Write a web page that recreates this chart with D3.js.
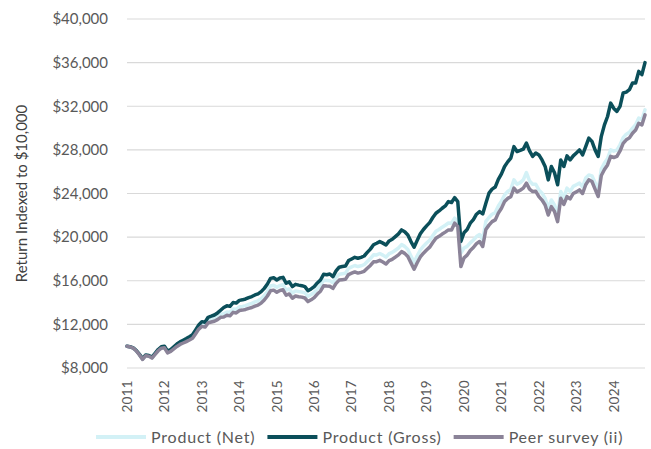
<!DOCTYPE html>
<html>
<head>
<meta charset="utf-8">
<script src="https://cdn.jsdelivr.net/npm/d3@7"></script>
<style>
body { margin: 0; background: #fff; }
text { font-family: Lato, "Open Sans", sans-serif; }
</style>
</head>
<body>
<div id="chart"></div>
<script>
// year labels sit on every 12th monthly point
var years = ["2011", "2012", "2013", "2014", "2015", "2016", "2017", "2018", "2019", "2020", "2021", "2022", "2023", "2024"];
var yTicks = [8000, 12000, 16000, 20000, 24000, 28000, 32000, 36000, 40000];
var seriesNames = ["Product (Net)", "Product (Gross)", "Peer survey (ii)"];

var productNet = [
    10000, 9940, 9830, 9575, 9220, 8810, 9155, 9100, 8950, 9290, 9630, 9880,
    9930, 9470, 9610, 9850, 10090, 10280, 10420, 10560, 10720, 10890, 11320, 11750,
    12020, 11960, 12370, 12460, 12550, 12710, 12940, 12980, 13140, 13090, 13420, 13380,
    13610, 13650, 13720, 13830, 13920, 14060, 14160, 14350, 14640, 15020, 15520, 15590,
    15400, 15570, 15630, 15130, 15250, 14860, 15070, 15010, 14970, 14890, 14570, 14740,
    14940, 15280, 15550, 16050, 16030, 16010, 15820, 16290, 16600, 16650, 16690, 17140,
    17270, 17400, 17300, 17370, 17470, 17760, 18030, 18380, 18370, 18500, 18350, 18170,
    18480, 18600, 18800, 19000, 19310, 19150, 18860, 18270, 17690, 18290, 18820, 19170,
    19460, 19720, 20140, 20530, 20700, 20910, 21090, 21290, 21280, 21740, 21430, 18530,
    19000, 19150, 19480, 19720, 20050, 20240, 19780, 21450, 21800, 22100, 22250, 22850,
    23300, 23870, 24180, 24380, 25250, 24850, 25000, 25250, 25920, 25150, 24850, 24850,
    24330, 24030, 23560, 22640, 23410, 22960, 22030, 24190, 23620, 24490, 24180, 24650,
    24800, 24950, 24620, 25420, 25700, 25620, 24990, 24330, 26250, 26800, 27200, 28000,
    27880, 27970, 28470, 29120, 29440, 29610, 29990, 30300, 30920, 30760, 31670
];

var productGross = [
    10000, 9950, 9850, 9600, 9250, 8850, 9200, 9150, 9000, 9350, 9700, 9950,
    10000, 9550, 9700, 9950, 10200, 10400, 10550, 10700, 10870, 11050, 11500, 11950,
    12250, 12200, 12650, 12750, 12860, 13050, 13300, 13550, 13700, 13650, 14000, 13950,
    14200, 14250, 14330, 14450, 14550, 14700, 14800, 15000, 15300, 15700, 16220, 16280,
    16070, 16250, 16310, 15770, 15900, 15460, 15670, 15600, 15550, 15460, 15090, 15250,
    15460, 15800, 16070, 16590, 16550, 16620, 16380, 16900, 17240, 17300, 17350, 17850,
    18000, 18150, 18060, 18150, 18270, 18600, 18900, 19300, 19440, 19590, 19450, 19280,
    19650, 19800, 20050, 20300, 20660, 20500, 20200, 19590, 19070, 19700, 20300, 20700,
    21030, 21330, 21800, 22190, 22400, 22650, 22860, 23260, 23170, 23620, 23260, 19600,
    20400, 20700, 21280, 21600, 22100, 22340, 22130, 23110, 24030, 24400, 24590, 25300,
    25800, 26480, 26900, 27240, 28300, 27850, 27950, 28070, 28620, 27900, 27400, 27710,
    27540, 27080, 26480, 25250, 26480, 25900, 24800, 27080, 26480, 27450, 27080, 27450,
    27710, 28000, 27540, 28300, 29080, 28780, 28000, 27400, 29240, 30290, 31060, 32290,
    31800, 31530, 31990, 33220, 33300, 33520, 34130, 34130, 35200, 34900, 36000
];

var peerSurvey = [
    10000, 9930, 9820, 9560, 9200, 8790, 9130, 9070, 8910, 9250, 9580, 9820,
    9850, 9390, 9520, 9750, 9980, 10160, 10290, 10420, 10570, 10730, 11150, 11570,
    11820, 11750, 12140, 12220, 12290, 12440, 12650, 12680, 12830, 12780, 13100, 13050,
    13270, 13310, 13370, 13470, 13550, 13680, 13770, 13950, 14230, 14600, 15080, 15140,
    14950, 15110, 15170, 14670, 14790, 14400, 14600, 14540, 14500, 14420, 14090, 14250,
    14450, 14780, 15040, 15540, 15510, 15500, 15300, 15760, 16060, 16100, 16130, 16570,
    16690, 16810, 16700, 16770, 16860, 17140, 17400, 17740, 17750, 17870, 17720, 17540,
    17850, 17970, 18170, 18370, 18670, 18510, 18220, 17640, 17060, 17650, 18180, 18530,
    18820, 19080, 19500, 19900, 20070, 20280, 20460, 20660, 20650, 21280, 20970, 17300,
    18100, 18350, 18780, 19050, 19400, 19600, 19140, 20700, 21100, 21420, 21580, 22200,
    22650, 23260, 23550, 23700, 24490, 24150, 24300, 24490, 24950, 24400, 24180, 24200,
    23720, 23400, 22950, 22030, 22800, 22350, 21420, 23570, 23000, 23720, 23500, 24000,
    24150, 24330, 24000, 24800, 25250, 25100, 24400, 23720, 25650, 26200, 26620, 27400,
    27300, 27400, 27900, 28600, 28920, 29100, 29530, 29830, 30440, 30290, 31210
];

function renderChart() {
    var width = 651,
        height = 449,
        plot = {left: 127, right: 645, top: 19, bottom: 368};

    var colors = ["#d3f1f6", "#0b4f5a", "#8b8398"];
    var series = [productNet, productGross, peerSurvey];

    var svg = d3.select("#chart")
        .append("svg")
        .attr("width", width)
        .attr("height", height);

    var x = d3.scaleLinear()
        .domain([0, productGross.length - 1])
        .range([plot.left, plot.right]);

    var y = d3.scaleLinear()
        .domain([8000, 40000])
        .range([plot.bottom, plot.top]);

    // gridlines
    svg.append("g")
        .selectAll("line")
        .data(yTicks)
        .enter()
        .append("line")
        .attr("x1", plot.left)
        .attr("x2", plot.right)
        .attr("y1", function(d) { return y(d); })
        .attr("y2", function(d) { return y(d); })
        .attr("stroke", "#d9d9d9")
        .attr("stroke-width", 1.2);

    // y labels
    svg.append("g")
        .selectAll("text")
        .data(yTicks)
        .enter()
        .append("text")
        .attr("x", 108)
        .attr("y", function(d) { return y(d); })
        .attr("dy", "0.35em")
        .attr("text-anchor", "end")
        .attr("fill", "#595959")
        .style("font-size", "15px")
        .text(function(d) { return "$" + d3.format(",")(d); });

    // x labels (rotated)
    svg.append("g")
        .selectAll("text")
        .data(years)
        .enter()
        .append("text")
        .attr("transform", function(d, i) {
            return "translate(" + x(i * 12) + "," + 380 + ") rotate(-90)";
        })
        .attr("dy", "0.35em")
        .attr("text-anchor", "end")
        .attr("fill", "#595959")
        .style("font-size", "13.5px")
        .style("letter-spacing", "0.3px")
        .text(function(d) { return d; });

    svg.append("text")
        .attr("transform", "translate(22," + (plot.top + plot.bottom) / 2 + ") rotate(-90)")
        .attr("dy", "0.35em")
        .attr("text-anchor", "middle")
        .attr("fill", "#404040")
        .style("font-size", "15px")
        .text("Return Indexed to $10,000");

    var line = d3.line()
        .x(function(d, i) { return x(i); })
        .y(function(d) { return y(d); });

    svg.append("g")
        .selectAll("path")
        .data(series)
        .enter()
        .append("path")
        .attr("d", line)
        .attr("fill", "none")
        .attr("stroke", function(d, i) { return colors[i]; })
        .attr("stroke-width", 3.5)
        .attr("stroke-linejoin", "round")
        .attr("stroke-linecap", "round");

    // legend, laid out left to right
    var lx = 96, ly = 437;
    seriesNames.forEach(function(name, i) {
        svg.append("line")
            .attr("x1", lx)
            .attr("x2", lx + 50)
            .attr("y1", ly)
            .attr("y2", ly)
            .attr("stroke", colors[i])
            .attr("stroke-width", 4);
        var t = svg.append("text")
            .attr("x", lx + 55)
            .attr("y", ly)
            .attr("dy", "0.35em")
            .attr("fill", "#595959")
            .style("font-size", "16px")
            .style("letter-spacing", "0.8px")
            .text(name);
        lx = lx + 55 + t.node().getComputedTextLength() + 12;
    });
}

renderChart();
</script>
</body>
</html>
